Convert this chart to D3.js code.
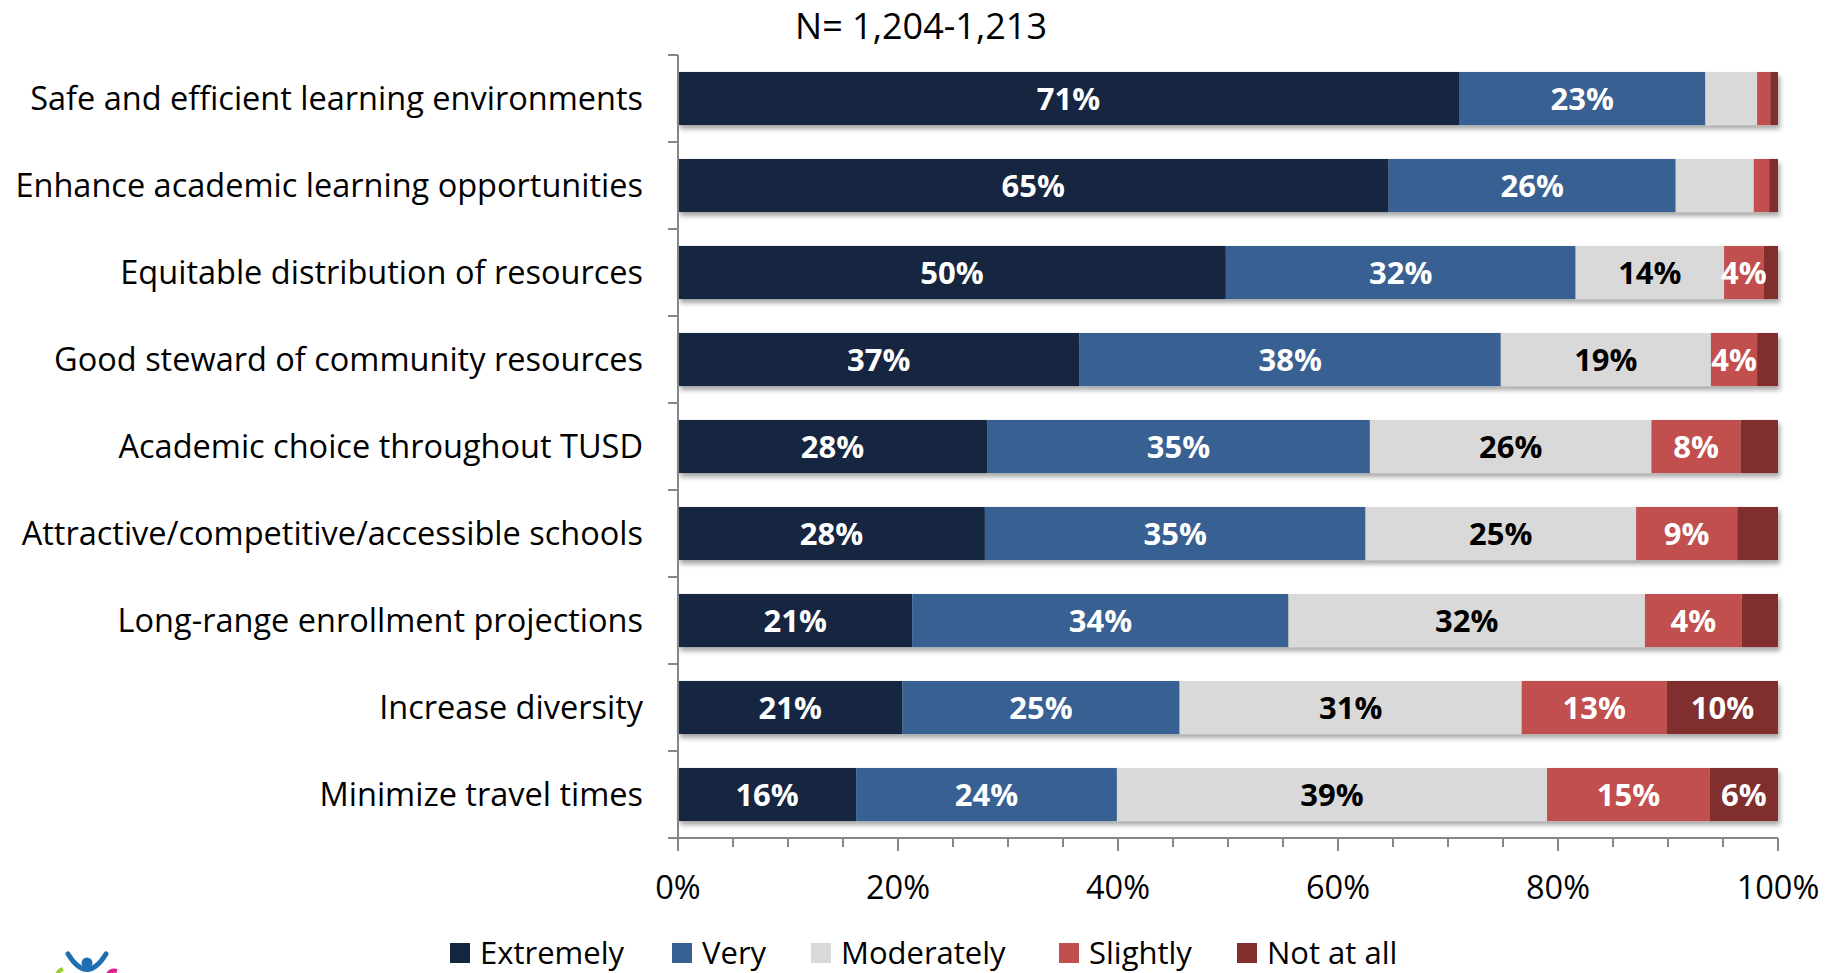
<!DOCTYPE html>
<html>
<head>
<meta charset="utf-8">
<script src="https://cdn.jsdelivr.net/npm/d3@7"></script>
<style>
  body { margin: 0; background: #fff; }
  svg { font-family: "Open Sans", sans-serif; }
</style>
</head>
<body>
<svg id="chart"></svg>
<script>
document.addEventListener('DOMContentLoaded', function() {

    const categories = [
        "Safe and efficient learning environments",
        "Enhance academic learning opportunities",
        "Equitable distribution of resources",
        "Good steward of community resources",
        "Academic choice throughout TUSD",
        "Attractive/competitive/accessible schools",
        "Long-range enrollment projections",
        "Increase diversity",
        "Minimize travel times"
    ];
    const seriesNames = ["Extremely", "Very", "Moderately", "Slightly", "Not at all"];

    const extremely  = [71.0, 64.6, 49.8, 36.5, 28.1, 27.9, 21.3, 20.4, 16.2];
    const very       = [22.4, 26.1, 31.8, 38.3, 34.8, 34.6, 34.2, 25.2, 23.7];
    const moderately = [4.7, 7.1, 13.5, 19.1, 25.6, 24.6, 32.4, 31.1, 39.1];
    const slightly   = [1.2, 1.4, 3.6, 4.2, 8.1, 9.2, 8.8, 13.2, 14.8];
    const notAtAll   = [0.7, 0.8, 1.3, 1.9, 3.4, 3.7, 3.3, 10.1, 6.2];

    // data labels as printed on the bars ("" = not shown)
    const extremelyLabels  = ["71%", "65%", "50%", "37%", "28%", "28%", "21%", "21%", "16%"];
    const veryLabels       = ["23%", "26%", "32%", "38%", "35%", "35%", "34%", "25%", "24%"];
    const moderatelyLabels = ["", "", "14%", "19%", "26%", "25%", "32%", "31%", "39%"];
    const slightlyLabels   = ["", "", "4%", "4%", "8%", "9%", "4%", "13%", "15%"];
    const notAtAllLabels   = ["", "", "", "", "", "", "", "10%", "6%"];

    const xTicks = [0, 20, 40, 60, 80, 100];
    const title = "N= 1,204-1,213";

    const colors = ["#13253f", "#376092", "#d9d9d9", "#c0504d", "#812e2d"];
    const labelColors = ["#fff", "#fff", "#000", "#fff", "#fff"];

    const seriesValues = [extremely, very, moderately, slightly, notAtAll];
    const seriesLabels = [extremelyLabels, veryLabels, moderatelyLabels, slightlyLabels, notAtAllLabels];

    const rows = categories.map((c, i) => {
        const r = { category: c };
        seriesNames.forEach((s, j) => { r[s] = seriesValues[j][i]; });
        return r;
    });

    const svgWidth = 1837, svgHeight = 973;
    const margin = { top: 55, right: 59, bottom: 135, left: 678 };
    const chartWidth = svgWidth - margin.left - margin.right;
    const chartHeight = svgHeight - margin.top - margin.bottom;

    const svg = d3.select('#chart')
                  .attr('width', svgWidth)
                  .attr('height', svgHeight);

    const defs = svg.append('defs');
    const filter = defs.append('filter').attr('id', 'shadow')
                       .attr('x', '-2%').attr('y', '-20%').attr('width', '104%').attr('height', '160%');
    filter.append('feDropShadow').attr('dx', 2).attr('dy', 4).attr('stdDeviation', 2.5)
          .attr('flood-color', '#000').attr('flood-opacity', 0.35);

    const chartGroup = svg.append('g')
                          .attr('transform', `translate(${margin.left}, ${margin.top})`);

    const xScale = d3.scaleLinear().domain([0, 100]).range([0, chartWidth]);
    const yScale = d3.scaleBand().domain(categories).range([0, chartHeight]).paddingInner(0.39).paddingOuter(0.195);

    const stacked = d3.stack().keys(seriesNames)(rows);

    // Bars
    const barGroups = chartGroup.selectAll('.bar-row')
                                .data(categories)
                                .enter()
                                .append('g')
                                .attr('class', 'bar-row')
                                .attr('filter', 'url(#shadow)');

    barGroups.each(function(cat, i) {
        const g = d3.select(this);
        stacked.forEach((layer, j) => {
            const d = layer[i];
            g.append('rect')
             .attr('x', xScale(d[0]))
             .attr('y', yScale(cat))
             .attr('width', xScale(d[1]) - xScale(d[0]))
             .attr('height', yScale.bandwidth())
             .attr('fill', colors[j]);
        });
    });

    // Data labels
    stacked.forEach((layer, j) => {
        chartGroup.selectAll('.lbl-' + j)
                  .data(layer)
                  .enter()
                  .append('text')
                  .attr('x', d => xScale((d[0] + d[1]) / 2))
                  .attr('y', (d, i) => yScale(categories[i]) + yScale.bandwidth() / 2)
                  .attr('dy', '0.36em')
                  .attr('text-anchor', 'middle')
                  .attr('fill', labelColors[j])
                  .style('font-size', '31px')
                  .style('font-weight', 'bold')
                  .text((d, i) => seriesLabels[j][i]);
    });

    // Y axis
    const yAxisG = chartGroup.append('g');
    yAxisG.append('line')
          .attr('x1', 0).attr('x2', 0)
          .attr('y1', 0).attr('y2', chartHeight)
          .attr('stroke', '#868686').attr('stroke-width', 2);
    const bounds = d3.range(categories.length + 1).map(k => k * chartHeight / categories.length);
    yAxisG.selectAll('.ytick')
          .data(bounds)
          .enter()
          .append('line')
          .attr('x1', -10).attr('x2', 0)
          .attr('y1', d => d).attr('y2', d => d)
          .attr('stroke', '#868686').attr('stroke-width', 2);

    chartGroup.append('g')
              .selectAll('text')
              .data(categories)
              .enter()
              .append('text')
              .attr('x', -35)
              .attr('y', d => yScale(d) + yScale.bandwidth() / 2)
              .attr('dy', '0.34em')
              .attr('text-anchor', 'end')
              .attr('fill', '#000')
              .style('font-size', '32.5px')
              .text(d => d);

    // X axis
    const xAxisG = chartGroup.append('g').attr('transform', `translate(0, ${chartHeight})`);
    xAxisG.append('line')
          .attr('x1', 0).attr('x2', chartWidth)
          .attr('stroke', '#868686').attr('stroke-width', 2);
    xAxisG.selectAll('.minor')
          .data(d3.range(0, 101, 5))
          .enter()
          .append('line')
          .attr('x1', d => xScale(d)).attr('x2', d => xScale(d))
          .attr('y1', 0).attr('y2', d => d % 20 === 0 ? 13 : 9)
          .attr('stroke', '#868686').attr('stroke-width', 2);
    xAxisG.selectAll('.xlabel')
          .data(xTicks)
          .enter()
          .append('text')
          .attr('x', d => xScale(d))
          .attr('y', 61)
          .attr('text-anchor', 'middle')
          .style('font-size', '32.5px')
          .text(d => d + '%');

    // Title
    svg.append('text')
       .attr('x', 921)
       .attr('y', 39)
       .attr('text-anchor', 'middle')
       .style('font-size', '36px')
       .text(title);

    // Legend
    const legendX = [450, 672, 811, 1059, 1237];
    const legend = svg.append('g');
    seriesNames.forEach((s, j) => {
        const lg = legend.append('g').attr('transform', `translate(${legendX[j]}, 953)`);
        lg.append('rect').attr('x', 0).attr('y', -10).attr('width', 20).attr('height', 20).attr('fill', colors[j]);
        lg.append('text').attr('x', 30).attr('y', 0).attr('dy', '0.35em')
          .style('font-size', '31px').text(s);
    });

    // partial logo in the corner
    const logo = svg.append('g').attr('transform', 'translate(87, 963)');
    logo.append('circle').attr('cx', 0).attr('cy', 0).attr('r', 5.5).attr('fill', '#1f6fb0');
    logo.append('path').attr('d', 'M-19,-9 Q0,22 19,-9').attr('fill', 'none')
        .attr('stroke', '#1f6fb0').attr('stroke-width', 5).attr('stroke-linecap', 'round');
    logo.append('path').attr('d', 'M-30,14 Q-30,8 -24,6').attr('fill', 'none')
        .attr('stroke', '#9acd32').attr('stroke-width', 4);
    logo.append('path').attr('d', 'M20,14 Q22,6 30,8').attr('fill', 'none')
        .attr('stroke', '#e0218a').attr('stroke-width', 4);
});
</script>
</body>
</html>
